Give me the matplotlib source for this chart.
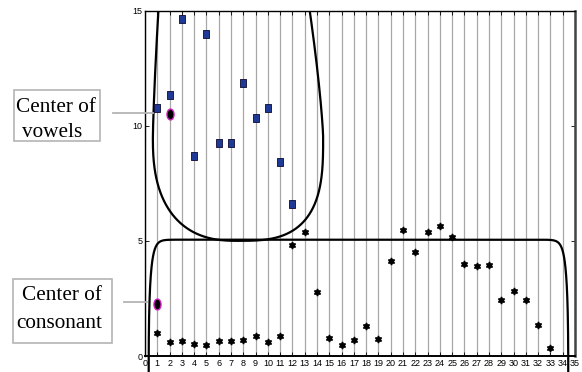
import numpy as np
import matplotlib
matplotlib.use("Agg")
import matplotlib.pyplot as plt
from matplotlib.path import Path
from matplotlib.transforms import Affine2D
from matplotlib.patches import Rectangle
from matplotlib.lines import Line2D

# datos
vowel_x = list(range(1, 13))
vowel_y = [10.77, 11.32, 14.65, 8.70, 14.0, 9.25, 9.25, 11.84, 10.32, 10.77, 8.43, 6.62]

cons_x = list(range(1, 34))
cons_y = [1.01, 0.60, 0.64, 0.52, 0.48, 0.64, 0.64, 0.71, 0.86, 0.60, 0.86, 4.83,
          5.40, 2.80, 0.78, 0.48, 0.68, 1.29, 0.72, 4.11, 5.48, 4.53, 5.38, 5.63,
          5.16, 3.98, 3.90, 3.93, 2.42, 2.84, 2.42, 1.35, 0.33]

vowel_center = (2, 10.5)
cons_center = (1, 2.27)

x_ticks = list(range(0, 36))
y_ticks = [0, 5, 10, 15]

W, H = 582, 372


def fx(px):
    return px / W


def fy(py):
    return 1 - py / H


def quadrant(xc, yc, a, b, p, q, sx, sy, n=400):
    # cuarto de superelipse |dx/a|^p + |dy/b|^q = 1
    th = np.linspace(0, np.pi / 2, n)
    x = xc + sx * a * np.cos(th) ** (2.0 / p)
    y = yc + sy * b * np.sin(th) ** (2.0 / q)
    return x, y


fig = plt.figure(figsize=(W / 100, H / 100), dpi=100)
ax = fig.add_axes([fx(145), fy(356), fx(575) - fx(145), fy(10.5) - fy(356)])

tick_font = ['Liberation Sans Narrow', 'Liberation Sans']
ax.set_xlim(0, 35)
ax.set_ylim(0, 15)
ax.set_xticks(x_ticks)
ax.set_yticks(y_ticks)
ax.set_xticklabels([str(v) for v in x_ticks], family=tick_font, fontsize=6.5)
ax.set_yticklabels([str(v) for v in y_ticks], family=tick_font, fontsize=6.5)
ax.tick_params(direction='in', length=3, width=0.6, top=True, right=True, pad=2)
ax.xaxis.grid(True, color='#a8a8a8', lw=0.9)
ax.set_axisbelow(True)
for s in ['left', 'top', 'bottom']:
    ax.spines[s].set_color('black')
    ax.spines[s].set_linewidth(1.0)
ax.spines['bottom'].set_linewidth(1.4)
ax.spines['right'].set_color('#444444')
ax.spines['right'].set_linewidth(1.8)

# frontera de vocales
vc = (7.55, 9.5)
ul = quadrant(vc[0], vc[1], 6.91, 37, 1.3, 1.3, -1, 1)
ll = quadrant(vc[0], vc[1], 6.91, 4.5, 2.5, 2.5, -1, -1)
lr = quadrant(vc[0], vc[1], 6.95, 4.5, 3.0, 3.0, 1, -1)
ur = quadrant(vc[0], vc[1], 6.95, 19, 1.3, 1.3, 1, 1)
bx = np.concatenate([ul[0][::-1], ll[0], lr[0][::-1], ur[0]])
by = np.concatenate([ul[1][::-1], ll[1], lr[1][::-1], ur[1]])
ax.plot(bx, by, color='black', lw=1.6, zorder=3)

# frontera de consonantes
cc = (17.4, -0.7)
cl = quadrant(cc[0], cc[1], 17.1, 5.75, 60, 2.5, -1, 1)
cr = quadrant(cc[0], cc[1], 17.05, 5.75, 60, 2.5, 1, 1)
cx = np.concatenate([cl[0], cr[0][::-1]])
cy = np.concatenate([cl[1], cr[1][::-1]])
ax.plot(cx, cy, color='black', lw=1.6, zorder=3, clip_on=False)

rect = Path([(-0.7, -1), (0.7, -1), (0.7, 1), (-0.7, 1), (-0.7, -1)],
            [Path.MOVETO, Path.LINETO, Path.LINETO, Path.LINETO, Path.CLOSEPOLY])
ax.plot(vowel_x, vowel_y, ls='none', marker=rect, markersize=5.4,
        markerfacecolor='#1f3a96', markeredgecolor='#0a0a30', markeredgewidth=0.6, zorder=4)
ax.plot(cons_x, cons_y, ls='none', marker=(6, 1, 0), markersize=5,
        color='black', markeredgewidth=1.0, zorder=4)

oval = Path.unit_circle().transformed(Affine2D().scale(0.65, 1.0))
for c in (vowel_center, cons_center):
    ax.plot(*c, ls='none', marker=oval, markersize=7.8,
            markerfacecolor='black', markeredgecolor='#d020c0', markeredgewidth=1.0, zorder=5)

# etiquetas con recuadro
box_kw = dict(transform=fig.transFigure, fill=False, ec='#b4b4b4', lw=1.2)
fig.add_artist(Rectangle((fx(14), fy(140.7)), fx(100) - fx(14), fy(90) - fy(140.7), **box_kw))
fig.add_artist(Rectangle((fx(12.7), fy(343)), fx(111.7) - fx(12.7), fy(279) - fy(343), **box_kw))

txt_kw = dict(family=['Liberation Serif', 'DejaVu Serif'], fontsize=15.3, va='baseline', ha='left')
fig.text(fx(16.5), fy(111.7), 'Center of', **txt_kw)
fig.text(fx(22.5), fy(137.3), 'vowels', **txt_kw)
fig.text(fx(22.5), fy(299.5), 'Center of', **txt_kw)
fig.text(fx(16.5), fy(328.3), 'consonant', **txt_kw)

line_kw = dict(transform=fig.transFigure, color='#b4b4b4', lw=1.3)
fig.add_artist(Line2D([fx(113), fx(153)], [fy(113.3), fy(113.3)], **line_kw))
fig.add_artist(Line2D([fx(124), fx(147)], [fy(302.3), fy(302.3)], **line_kw))

fig.savefig('out.png', dpi=100)
